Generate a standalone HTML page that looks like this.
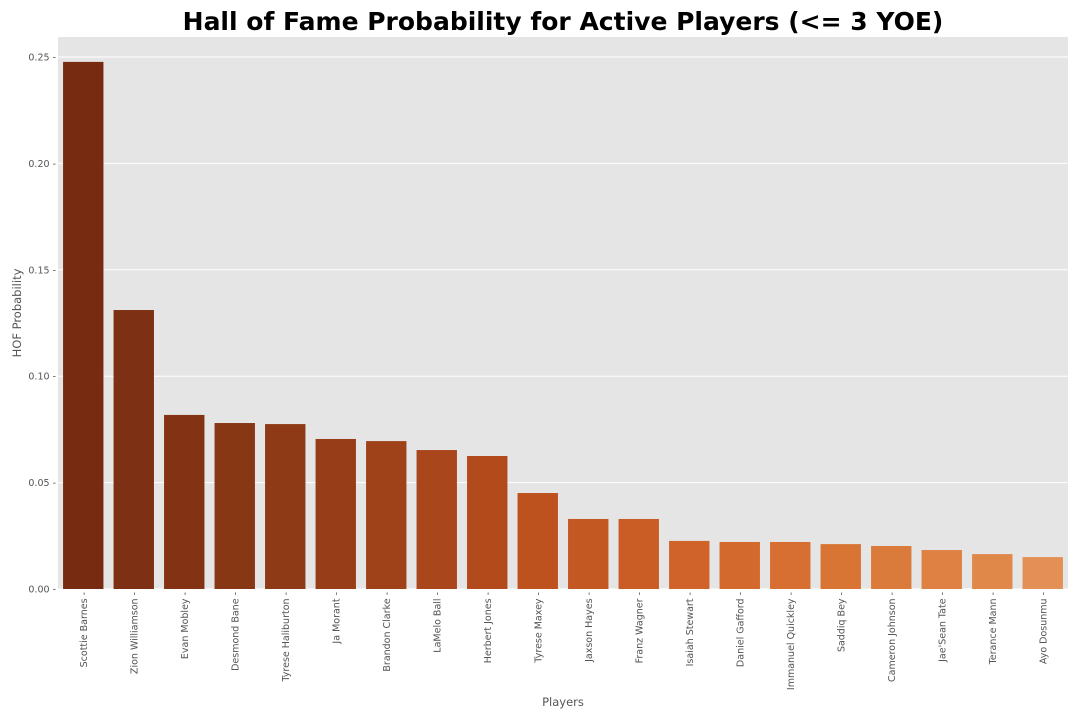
<!DOCTYPE html>
<html><head><meta charset="utf-8"><style>
body{margin:0;background:#fff;}
svg{display:block;font-family:"DejaVu Sans","Liberation Sans",sans-serif;}
</style></head><body>
<svg id="chart" width="1080" height="720" viewBox="0 0 1080 720">
<rect x="58" y="37" width="1010" height="552" fill="#e5e5e5"/>
<g id="grid"></g><g id="bars"></g><g id="yticks"></g><g id="xticks"></g>
<text x="563" y="30" text-anchor="middle" font-size="25" font-weight="bold" fill="#000">Hall of Fame Probability for Active Players (&lt;= 3 YOE)</text>
<text x="563" y="706" text-anchor="middle" font-size="11.5" fill="#555">Players</text>
<text transform="translate(21,313) rotate(-90)" text-anchor="middle" font-size="11.5" fill="#555">HOF Probability</text>
</svg>
<script>
const players = ["Scottie Barnes","Zion Williamson","Evan Mobley","Desmond Bane","Tyrese Haliburton","Ja Morant","Brandon Clarke","LaMelo Ball","Herbert Jones","Tyrese Maxey","Jaxson Hayes","Franz Wagner","Isaiah Stewart","Daniel Gafford","Immanuel Quickley","Saddiq Bey","Cameron Johnson","Jae'Sean Tate","Terance Mann","Ayo Dosunmu"];
const probs = [0.2477,0.1311,0.0818,0.0780,0.0775,0.0705,0.0695,0.0653,0.0625,0.0451,0.0329,0.0329,0.0226,0.0221,0.0221,0.0211,0.0202,0.0183,0.0164,0.0150];
const yTicks = [0,0.05,0.10,0.15,0.20,0.25];
const yTickLabels = ["0.00","0.05","0.10","0.15","0.20","0.25"];
const NS="http://www.w3.org/2000/svg";
const left=58,right=1068,y0=589,pxPerUnit=(589-57)/0.25;
const yScale=v=>y0-v*pxPerUnit;
const slot=(right-left)/players.length;
const xCenter=i=>left+slot*(i+0.5);
const stops=[[0,[0x77,0x2c,0x12]],[4,[0x8e,0x3a,0x16]],[8,[0xb2,0x4a,0x1c]],[9,[0xbd,0x52,0x1f]],[12,[0xd0,0x63,0x2a]],[15,[0xd9,0x75,0x34]],[18,[0xe0,0x87,0x4a]],[19,[0xe3,0x8f,0x55]]];
function col(i){
 for(let k=0;k<stops.length-1;k++){const [a,ca]=stops[k],[b,cb]=stops[k+1];
  if(i>=a&&i<=b){const t=(i-a)/(b-a);return "rgb("+ca.map((v,j)=>Math.round(v+(cb[j]-v)*t)).join(",")+")";}}
 return "#e38f55";}
const grid=document.getElementById('grid'),yt=document.getElementById('yticks');
yTicks.forEach((v,i)=>{
 const y=yScale(v);
 const l=document.createElementNS(NS,'line');
 
 
 l.setAttribute('x1',left);l.setAttribute('x2',right);l.setAttribute('y1',y);l.setAttribute('y2',y);
 l.setAttribute('stroke','#fff');l.setAttribute('stroke-width','1');grid.appendChild(l);
 const t=document.createElementNS(NS,'text');
 
 
 t.setAttribute('x',left-2);t.setAttribute('y',y+3.5);t.setAttribute('text-anchor','end');
 t.setAttribute('font-size','9.5');t.setAttribute('fill','#555');t.textContent=yTickLabels[i]+" -";yt.appendChild(t);
});
const bars=document.getElementById('bars'),xt=document.getElementById('xticks');
const bw=slot*0.8;
players.forEach((p,i)=>{
 const r=document.createElementNS(NS,'rect');
 
 
 const y=yScale(probs[i]);
 r.setAttribute('x',xCenter(i)-bw/2);r.setAttribute('y',y);r.setAttribute('width',bw);r.setAttribute('height',y0-y);
 r.setAttribute('fill',col(i));bars.appendChild(r);
 const t=document.createElementNS(NS,'text');
 
 
 t.setAttribute('transform','translate('+(xCenter(i)+3.5)+',592) rotate(-90)');
 t.setAttribute('text-anchor','end');t.setAttribute('font-size','9.5');t.setAttribute('fill','#555');
 t.textContent=p+" -";xt.appendChild(t);
});
</script>
</body></html>
